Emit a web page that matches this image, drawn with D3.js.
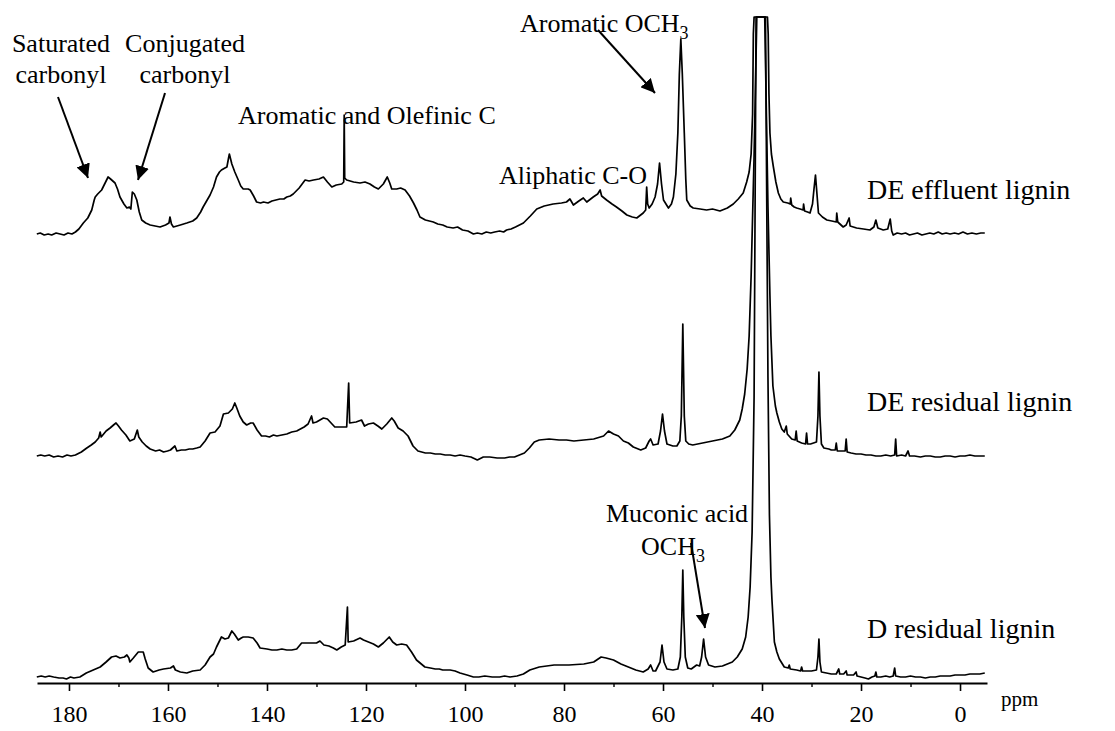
<!DOCTYPE html>
<html>
<head>
<meta charset="utf-8">
<script src="https://cdn.jsdelivr.net/npm/d3@7"></script>
<style>
  body { margin: 0; background: #fff; }
  svg text { font-family: "Liberation Serif", "Times New Roman", serif; fill: #000; }
</style>
</head>
<body>
<div id="chart"></div>
<script>
// 13C NMR spectra of lignin samples, stacked. values = [ppm, intensity above own baseline]
const effluent = [[186.5,0],[185.8,1],[185,-1],[184.2,0],[183.5,-1],[182.6,1],[181.8,0],[181,-1],[180.2,1],[179.4,0],[178.7,2],[178,5],[177.1,11],[176.2,16],[175.4,24],[174.9,34],[174.7,37],[174.2,40],[173.4,44],[172.7,51],[172.1,57],[171.6,55],[170.7,51],[170.2,45],[169.7,37],[168.9,30],[168.3,26],[167.8,27],[167.5,25],[167.2,42],[166.8,40],[166.3,34],[165.8,22],[165.3,14],[164.5,11],[163.6,9],[162.6,8],[161.6,7],[160.5,9],[159.8,11],[159.6,17],[159.3,10],[158.9,7],[157.5,9],[156.2,11],[155,13],[154.2,16],[153.4,22],[152.9,27],[152.2,33],[151.5,39],[150.8,47],[150.2,57],[149.6,62],[149.2,64],[148.5,66],[148.1,67],[147.8,75],[147.6,80],[147.3,74],[147.1,70],[146.5,62],[145.8,54],[145.3,48],[144.8,45],[143.8,45],[143.4,44],[142.7,38],[142.1,32],[141.3,31],[140.7,32],[139.8,31],[139,33],[138.2,34],[137.4,35],[136.6,35],[136,37],[135.3,38],[134.7,40],[133.5,46],[132.3,54],[131.5,53],[130.6,54],[129.5,55],[128.6,57],[127.8,52],[126.9,47],[126,49],[124.9,50],[124.5,52],[124.4,119],[124.3,56],[123.9,54],[122.5,52],[121.2,51],[120.2,52],[119.2,50],[118.3,47],[117.5,45],[116.5,50],[115.7,57],[115.2,51],[114.8,45],[113.8,45],[113,46],[112.1,44],[111.2,38],[110.4,31],[109.7,24],[109.1,17],[108,14],[107.2,13],[106.4,12],[105.5,10],[104.5,9],[103.6,7],[102.4,6],[101.5,7],[100.5,4],[99.4,3],[98.3,0],[97.5,1],[96.6,0],[95.7,2],[94.8,1],[94,2],[93,3],[92.2,2],[91.6,4],[90.7,5],[89.8,7],[88.2,11],[86.8,18],[85.5,25],[84,28],[82.2,30],[80.5,31],[79.5,32],[78.8,35],[78.1,29],[77,33],[76.1,36],[75.4,32],[74.1,37],[73.2,40],[72.7,44],[72.4,38],[71.4,34],[70.3,30],[69.4,27],[68.3,23],[67.3,19],[66.2,17],[65.3,16],[64,21],[63.5,24],[63.3,47],[63.1,30],[62.8,26],[62.2,30],[61.6,37],[61.1,50],[60.7,71],[60.3,50],[59.9,34],[58.9,26],[58.3,30],[57.9,37],[57.4,60],[57,101],[56.7,160],[56.4,195],[56.1,160],[55.7,101],[55.4,55],[55.2,34],[54.5,28],[53.9,26],[52.5,25],[51.2,24],[50,25],[48.5,23],[47,26],[45.8,30],[44.8,35],[43.8,41],[43.1,52],[42.6,62],[42.2,80],[41.9,120],[41.75,200],[41.6,700],[38.9,700],[38.75,200],[38.6,140],[38.4,101],[38.1,80],[37.7,67],[37.2,52],[36.7,41],[36.2,35],[35.7,32],[34.8,31],[34.3,30],[34.2,36],[34,29],[33.5,27],[33,26],[32.3,25],[31.7,24],[31.6,30],[31.4,23],[30.8,22],[30.3,21],[29.8,30],[29.5,45],[29.2,59],[28.9,40],[28.6,21],[27.8,17],[26.9,14],[25.9,13],[25,12],[24.9,21],[24.7,12],[23.6,7],[23,9],[22.4,16],[22.2,8],[20.9,6],[19.5,5],[18.2,4],[17.4,7],[17,14],[16.6,6],[15.5,4],[14.6,5],[14.1,15],[13.8,3],[13.5,-1],[12.7,1],[11.8,0],[11,1],[10.2,-1],[9.4,0],[8.6,1],[7.7,-1],[6.9,0],[6.1,1],[5.3,0],[4.4,2],[3.6,0],[2.8,1],[2,0],[1.1,1],[0.3,0],[-0.6,2],[-1.5,0],[-2.4,1],[-3.3,0],[-4.2,1],[-5,1]];

const deResidual = [[186.5,0],[185.7,1],[184.9,0],[184,1],[183.1,-1],[182.2,0],[181.3,-1],[180.4,1],[179.6,0],[178.7,1],[177.5,4],[176.4,8],[175.5,11],[174.7,14],[174,18],[173.7,24],[173.5,19],[172.5,25],[171.7,28],[171,31],[170.5,33],[170,30],[169.4,26],[168.5,21],[167.7,15],[166.8,17],[166.2,26],[165.9,19],[165.2,14],[164.4,10],[163.6,7],[162.5,5],[161.7,6],[160.9,4],[160.1,5],[159.5,6],[158.6,10],[158.2,5],[157.3,6],[156.5,6],[155.7,7],[155,7],[154.2,8],[153.5,9],[152.5,15],[151.5,23],[150.5,24],[149.5,30],[148.8,42],[147.8,43],[147,47],[146.5,53],[146.1,48],[145.5,40],[144.8,34],[144.1,31],[143.3,33],[142.8,33],[142,26],[141.1,20],[140.3,20],[139.5,19],[138.7,21],[138,20],[137,21],[136,22],[135,24],[134,25],[132.5,29],[131.7,32],[131,40],[130.7,33],[130,34],[128.6,38],[127.8,37],[126.3,29],[125,29],[123.9,29],[123.5,73],[123.3,33],[122,34],[120.9,36],[120.3,30],[119.5,32],[118.5,33],[117.6,30],[116.8,27],[115.8,32],[114.8,38],[114.3,35],[113.5,28],[112.5,25],[111.5,20],[110.5,10],[109.5,5],[108,3],[107,3],[106,2],[105,2],[104,1],[103,1],[102,0],[101,1],[100,0],[98.8,-1],[97.5,-4],[96.3,-1],[95,-1],[93.5,-2],[92,-2],[91,-1],[90,-1],[88,3],[87,8],[86,14],[85,16],[83,17],[81,16],[79.5,16],[78,15],[76,16],[74,17],[72,20],[71,25],[70,22],[69,20],[68,15],[67,13],[66,9],[65.5,8],[64.5,6],[63.5,8],[62.8,15],[62.5,17],[62,11],[61,12],[60.5,25],[60.1,42],[59.7,25],[59.2,12],[58,10],[57.2,10],[56.6,15],[56.3,40],[56,132],[55.7,40],[55.4,15],[54.8,12],[54,11],[52,13],[50,15],[48,17],[46.5,20],[45.5,26],[44.5,36],[44,47],[43.5,62],[43,87],[42.6,120],[42.2,180],[41.6,300],[41.05,700],[39.45,700],[38.8,250],[38.4,160],[38.2,120],[37.8,70],[37.3,50],[37,43],[36.5,34],[36,27],[35.5,24],[35.1,30],[34.9,22],[34,17],[33.3,16],[33.1,25],[32.9,15],[32,13],[31.2,12],[31,23],[30.8,12],[30.2,12],[29,14],[28.7,40],[28.5,84],[28.3,40],[28,12],[27.5,8],[26.5,7],[26,6],[25.2,6],[25,13],[24.8,5],[24,5],[23.2,5],[23,17],[22.8,4],[22,3],[21,2],[20,2],[19,1],[18,1],[17,0],[16,0],[15,1],[14,0],[13.2,1],[13,17],[12.8,0],[11.8,1],[11,0],[10.5,5],[10.2,0],[9.2,0],[8,-1],[7,0],[6,0],[5,-1],[4,-1],[3,0],[2,0],[1,-1],[0,0],[-1,0],[-2,1],[-3,0],[-4,0],[-5,0]];

const dResidual = [[186.5,0],[185.6,1],[184.8,0],[184,1],[183.1,0],[182,-1],[181.2,-1],[180.5,-2],[179.7,0],[179,-1],[177.8,0],[176.5,4],[175.1,7],[173.7,10],[172.5,15],[171.4,20],[170.5,21],[169.7,19],[168.8,20],[168.3,22],[167.9,19],[167.7,15],[167,19],[166.5,22],[166,25],[165,25],[164.6,18],[164,9],[163,5],[161.8,7],[160.9,8],[159.5,9],[158.9,11],[158.5,7],[157.5,5],[156.2,4],[155,6],[153.5,7],[152.5,12],[151.5,20],[150.8,23],[150.2,30],[149.2,40],[148.5,38],[147.8,39],[147.1,46],[146.6,43],[145.8,37],[145.2,39],[144.8,40],[143.8,40],[142.8,39],[142,34],[141.4,29],[140,28],[139,27],[138,27],[137,28],[136,27],[135,27],[134,28],[133,34],[131.5,34],[130,34],[129.3,36],[128.5,32],[127.5,31],[126.6,29],[125.9,27],[125,30],[124.2,32],[123.75,70],[123.6,35],[122.5,36],[121.2,39],[120.5,37],[119.5,35],[118.5,33],[117.5,30],[116.5,34],[115.3,40],[114.6,35],[113.8,32],[112.8,33],[111.8,32],[110.8,25],[109.8,17],[108.1,10],[107,9],[106,8],[105.2,8],[104.5,7],[103,7],[102,6],[101,4],[99.6,2],[98.3,0],[97.2,0],[96,1],[94.5,0],[93,0],[92,1],[90.9,0],[89.5,1],[88.2,3],[86.9,7],[85,10],[82,12],[79,12],[76,13],[74,15],[72.5,20],[71.5,19],[70,17],[68.5,13],[67,10],[65.5,7],[64,5],[63,8],[62.5,12],[62,6],[61.5,6],[60.6,15],[60.2,32],[59.8,15],[59.2,8],[58,7],[57,8],[56.5,20],[56.2,60],[56,107],[55.8,60],[55.5,20],[55,9],[54.3,8],[53.2,12],[52.6,11],[52.2,20],[51.8,38],[51.4,20],[50.8,12],[49.5,10],[48,11],[46,15],[45,20],[44,28],[43.3,40],[42.8,60],[42.4,90],[42,145],[41.6,280],[41.2,700],[39.3,700],[38.8,300],[38.5,162],[38.2,100],[38,78],[37.5,35],[37,25],[36.5,18],[35.5,10],[34.7,9],[34.5,12],[34.3,8],[33,7],[32.2,6],[32,10],[31.8,6],[30,6],[29,7],[28.7,20],[28.5,38],[28.3,15],[28,5],[27,4],[26,3],[25,3],[24.5,8],[24.3,3],[23.5,3],[23,6],[22.8,2],[21.5,2],[21,5],[20.8,1],[20,0],[19.2,-1],[18.5,-2],[17.8,0],[17.2,1],[17,5],[16.8,0],[16,0],[15,1],[14.2,0],[13.5,1],[13.2,9],[13,1],[12,0],[11,0],[10,1],[9,0],[8,0],[7,-1],[6,0],[5,0],[4,1],[3,1],[2,1],[1,2],[0,2],[-1,2],[-2,3],[-3,3],[-4,3],[-5,4]];

const traceNames = ['DE effluent lignin', 'DE residual lignin', 'D residual lignin'];
const traceOffsets = [443, 221, 0];
const majorTicks = [180, 160, 140, 120, 100, 80, 60, 40, 20, 0];
const minorTicks = [170, 150, 130, 110, 90, 70, 50, 30, 10];

const W = 1115, H = 731;
const CLIP = 660;

const svg = d3.select('#chart').append('svg')
  .attr('width', W).attr('height', H);

const x = d3.scaleLinear().domain([186.46, -5.45]).range([37, 987]);
const y = d3.scaleLinear().domain([0, CLIP]).range([677, 17]);

// spectra, clipped flat at the top like the plotter did
const line = off => d3.line()
  .x(d => x(d[0]))
  .y(d => y(Math.min(d[1] + off, CLIP)));

[effluent, deResidual, dResidual].forEach((data, i) => {
  svg.append('path').datum(data)
    .attr('d', line(traceOffsets[i]))
    .attr('fill', 'none').attr('stroke', '#000')
    .attr('stroke-width', 1.7).attr('stroke-linejoin', 'round');
});

// axis
const axisY = 683;
const gx = svg.append('g').attr('transform', `translate(0,${axisY})`)
  .call(d3.axisBottom(x).tickValues(majorTicks).tickSize(8).tickSizeOuter(0).tickPadding(14));
gx.select('.domain').attr('stroke-width', 2.2);
gx.selectAll('.tick line').attr('stroke-width', 1.6);
gx.selectAll('.tick text').style('font-size', '24px')
  .style('font-family', '"Liberation Serif", "Times New Roman", serif');

svg.append('g').attr('transform', `translate(0,${axisY})`)
  .call(d3.axisBottom(x).tickValues(minorTicks).tickSize(4).tickSizeOuter(0).tickFormat(''))
  .call(g => g.select('.domain').remove())
  .selectAll('.tick line').attr('stroke-width', 1.4);

svg.append('text').attr('x', 1001).attr('y', 706)
  .style('font-size', '21px').text('ppm');

// trace labels
const labelY = [199, 411, 638];
traceNames.forEach((n, i) => {
  svg.append('text').attr('x', 867).attr('y', labelY[i])
    .style('font-size', '28px').text(n);
});

// annotations
const ann = (tx, ty, str, anchor) => svg.append('text')
  .attr('x', tx).attr('y', ty).attr('text-anchor', anchor || 'start')
  .style('font-size', '26px').text(str);

ann(61, 52, 'Saturated', 'middle');
ann(61, 83, 'carbonyl', 'middle');
ann(185, 52, 'Conjugated', 'middle');
ann(185, 83, 'carbonyl', 'middle');
ann(238, 124, 'Aromatic and Olefinic C');
ann(499, 184, 'Aliphatic C-O');

const och = ann(520, 32, 'Aromatic OCH');
och.append('tspan').attr('dy', 7).style('font-size', '18px').text('3');

ann(677, 522, 'Muconic acid', 'middle');
const mu = ann(673, 555, 'OCH', 'middle');
mu.append('tspan').attr('dy', 7).style('font-size', '18px').text('3');

// arrows
const defs = svg.append('defs');
defs.append('marker').attr('id', 'ah')
  .attr('viewBox', '0 0 10 10').attr('refX', 10).attr('refY', 5)
  .attr('markerWidth', 7).attr('markerHeight', 7).attr('markerUnits', 'strokeWidth')
  .attr('orient', 'auto')
  .append('path').attr('d', 'M0,0L10,5L0,10Z').attr('fill', '#000');

const arrows = [
  [58, 97, 88, 178],
  [165, 93, 138, 180],
  [598, 30, 655, 93],
  [691, 543, 705, 628]
];
arrows.forEach(a => {
  svg.append('line')
    .attr('x1', a[0]).attr('y1', a[1]).attr('x2', a[2]).attr('y2', a[3])
    .attr('stroke', '#000').attr('stroke-width', 2)
    .attr('marker-end', 'url(#ah)');
});
</script>
</body>
</html>
